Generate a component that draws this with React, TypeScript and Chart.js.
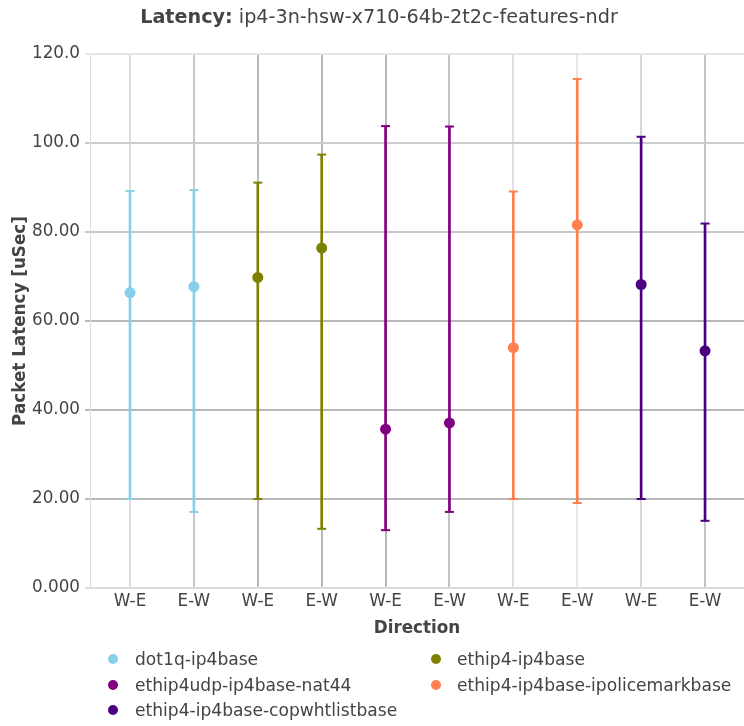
import React, { useEffect, useRef } from "react";
import { Chart, registerables } from "chart.js";

Chart.register(...registerables);

// ---- data ----
const xLabels = ["W-E", "E-W", "W-E", "E-W", "W-E", "E-W", "W-E", "E-W", "W-E", "E-W"];
const seriesNames = [
  "dot1q-ip4base",
  "ethip4-ip4base",
  "ethip4udp-ip4base-nat44",
  "ethip4-ip4base-ipolicemarkbase",
  "ethip4-ip4base-copwhtlistbase",
];
const seriesColors = ["#87CEEB", "#808000", "#800080", "#FF7F50", "#4B0082"];
const seriesPositions = [[0, 1], [2, 3], [4, 5], [6, 7], [8, 9]];
const avgLatency = [[66.4, 67.7], [69.8, 76.4], [35.7, 37.1], [54.0, 81.6], [68.2, 53.3]];
const minLatency = [[20, 17.1], [20, 13.3], [13.0, 17.1], [20, 19.1], [20, 15.1]];
const maxLatency = [[89.2, 89.4], [91.1, 97.4], [103.8, 103.7], [89.1, 114.4], [101.4, 81.9]];
const yTickValues = [0, 20, 40, 60, 80, 100, 120];
const yTickLabels = ["0.000", "20.00", "40.00", "60.00", "80.00", "100.0", "120.0"];
const titleBold = "Latency:";
const titleRest = " ip4-3n-hsw-x710-64b-2t2c-features-ndr";
const xTitle = "Direction";
const yTitle = "Packet Latency [uSec]";

// ---- styles ----
const FONT = '"DejaVu Sans", sans-serif';
const TEXT = "#444444";
const xGridColors = ["#dcdcdc", "#c8c8c8", "#b8b8b8", "#b8b8b8", "#b8b8b8", "#c4c4c4", "#e0e0e0", "#e6e6e6", "#d8d8d8", "#c4c4c4"];
const yGridColors = ["#dcdcdc", "#b8b8b8", "#b8b8b8", "#b8b8b8", "#c8c8c8", "#cccccc", "#e6e6e6"];

const titlePlugin = {
  id: "mixedTitle",
  afterDraw(chart: any) {
    const ctx = chart.ctx;
    ctx.save();
    const size = 19.2;
    ctx.font = `bold ${size}px ${FONT}`;
    const w1 = ctx.measureText(titleBold).width;
    ctx.font = `${size}px ${FONT}`;
    const w2 = ctx.measureText(titleRest).width;
    const cx = 379;
    const x0 = cx - (w1 + w2) / 2;
    ctx.fillStyle = TEXT;
    ctx.textBaseline = "middle";
    ctx.textAlign = "left";
    ctx.font = `bold ${size}px ${FONT}`;
    ctx.fillText(titleBold, x0, 18);
    ctx.font = `${size}px ${FONT}`;
    ctx.fillText(titleRest, x0 + w1, 18);
    ctx.restore();
  },
};

export default function App() {
  const ref = useRef<HTMLCanvasElement | null>(null);

  useEffect(() => {
    if (!ref.current) return;
    const datasets: any[] = [];
    seriesNames.forEach((name, s) => {
      const color = seriesColors[s];
      const pos = seriesPositions[s];
      datasets.push({
        type: "bar",
        label: name + " range",
        data: pos.map((x, j) => ({ x, y: [minLatency[s][j], maxLatency[s][j]] })),
        backgroundColor: color,
        borderWidth: 0,
        barThickness: 2,
        grouped: false,
        order: 2,
      });
      datasets.push({
        type: "scatter",
        label: name + " caps",
        data: [
          ...pos.map((x, j) => ({ x, y: maxLatency[s][j] })),
          ...pos.map((x, j) => ({ x, y: minLatency[s][j] })),
        ],
        pointStyle: "line",
        pointRadius: 4.5,
        borderColor: color,
        borderWidth: 2,
        showLine: false,
        order: 1,
      });
      datasets.push({
        type: "scatter",
        label: name,
        data: pos.map((x, j) => ({ x, y: avgLatency[s][j] })),
        pointStyle: "circle",
        pointRadius: 5.5,
        backgroundColor: color,
        borderWidth: 0,
        showLine: false,
        order: 0,
      });
    });

    const chart = new Chart(ref.current, {
      type: "scatter",
      data: { datasets },
      options: {
        animation: false,
        responsive: false,
        events: [],
        layout: { autoPadding: false, padding: { top: 54, left: 0, right: 0, bottom: 83 } },
        plugins: {
          legend: { display: false },
          tooltip: { enabled: false },
          title: { display: false },
        },
        scales: {
          x: {
            type: "linear",
            min: -0.626,
            max: 9.61,
            offset: false,
            afterBuildTicks: (scale: any) => {
              scale.ticks = xLabels.map((_, i) => ({ value: i }));
            },
            afterFit: (scale: any) => {
              scale.height = 55;
            },
            ticks: {
              autoSkip: false,
              maxRotation: 0,
              minRotation: 0,
              padding: 4,
              color: TEXT,
              font: { family: FONT, size: 16.8 },
              callback: (v: any) => xLabels[Math.round(Number(v))],
            },
            grid: {
              offset: false,
              drawTicks: false,
              lineWidth: 2,
              color: (c: any) => xGridColors[c.index] || "#cccccc",
            },
            border: { display: true, color: "#dcdcdc", width: 1 },
            title: {
              display: true,
              text: xTitle,
              color: TEXT,
              font: { family: FONT, size: 16.8, weight: "bold" },
              padding: { top: 4, bottom: 4 },
            },
          },
          y: {
            type: "linear",
            min: 0,
            max: 120,
            afterBuildTicks: (scale: any) => {
              scale.ticks = yTickValues.map((v) => ({ value: v }));
            },
            afterFit: (scale: any) => {
              scale.width = 90;
            },
            ticks: {
              padding: 5,
              color: TEXT,
              font: { family: FONT, size: 16.8 },
              callback: (v: any) => yTickLabels[yTickValues.indexOf(Number(v))],
            },
            grid: {
              drawTicks: true,
              tickLength: 5,
              lineWidth: 2,
              color: (c: any) => yGridColors[c.index] || "#cccccc",
            },
            border: { display: true, color: "#dcdcdc", width: 1 },
            title: {
              display: true,
              text: yTitle,
              color: TEXT,
              font: { family: FONT, size: 16.8, weight: "bold" },
              padding: { top: 11, bottom: 4 },
            },
          },
        },
      },
      plugins: [titlePlugin],
    } as any);
    return () => chart.destroy();
  }, []);

  const rowsY = [659, 685, 710];
  const legendItems = seriesNames.map((name, i) => ({
    name,
    color: seriesColors[i],
    col: i === 4 ? 0 : i % 2,
    row: i === 4 ? 2 : Math.floor(i / 2),
  }));
  const colDotX = [113, 436];
  const colTextX = [135, 457];

  return (
    <div style={{ position: "absolute", left: 0, top: 0, width: 744, height: 726, background: "#fff" }}>
      <canvas ref={ref} width={744} height={726} style={{ display: "block" }} />
      {legendItems.map((it) => (
        <React.Fragment key={it.name}>
          <div
            style={{
              position: "absolute",
              left: colDotX[it.col] - 5,
              top: rowsY[it.row] - 5,
              width: 10,
              height: 10,
              borderRadius: "50%",
              background: it.color,
            }}
          />
          <div
            style={{
              position: "absolute",
              left: colTextX[it.col],
              top: rowsY[it.row] - 11,
              height: 22,
              lineHeight: "22px",
              fontFamily: FONT,
              fontSize: 17.1,
              color: TEXT,
              whiteSpace: "nowrap",
            }}
          >
            {it.name}
          </div>
        </React.Fragment>
      ))}
    </div>
  );
}
